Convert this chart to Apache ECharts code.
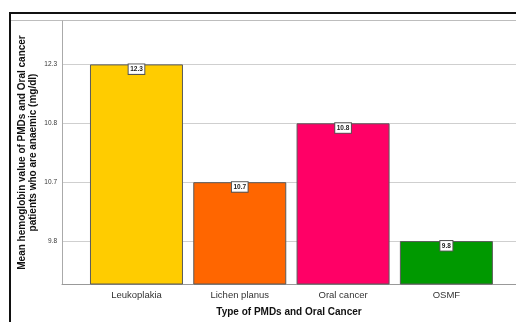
<!DOCTYPE html>
<html>
<head>
<meta charset="utf-8">
<script src="https://cdn.jsdelivr.net/npm/echarts@6/dist/echarts.min.js"></script>
<style>
  html, body { margin: 0; padding: 0; background: #fff; }
  #chart { width: 516px; height: 322px; }
</style>
</head>
<body>
<div id="chart"></div>
<script>
// Mean haemoglobin of anaemic patients by lesion type
const categories = ['Leukoplakia', 'Lichen planus', 'Oral cancer', 'OSMF'];
const meanHb = [12.3, 10.7, 10.8, 9.8];
const barColors = ['#FFCC00', '#FF6600', '#FF0066', '#009900'];
// The value axis is ordinal: each tick is one of these levels, evenly spaced
const yTickLabels = ['9.8', '10.7', '10.8', '12.3'];

// position of a value on the ordinal axis (1 = first tick)
const levelOf = v => yTickLabels.indexOf(v.toFixed(1)) + 1;
const tickLevels = yTickLabels.map((_, i) => i + 1);

const chart = echarts.init(document.getElementById('chart'), null, { renderer: 'canvas' });

const option = {
  backgroundColor: '#ffffff',
  animation: false,
  textStyle: { fontFamily: '"Liberation Sans", Arial, sans-serif' },
  grid: { left: 62, right: 0, top: 21, bottom: 37.5, containLabel: false },
  xAxis: {
    type: 'value',
    min: -0.721,
    max: 3.674,
    name: 'Type of PMDs and Oral Cancer',
    nameLocation: 'middle',
    nameGap: 23,
    nameMoveOverlap: false,
    nameTextStyle: { fontSize: 10, fontWeight: 'bold', color: '#111' },
    axisLine: { show: true, onZero: false, lineStyle: { color: '#999', width: 1 } },
    axisTick: { show: false, customValues: categories.map((_, i) => i) },
    splitLine: { show: false },
    axisLabel: {
      customValues: categories.map((_, i) => i),
      formatter: v => categories[Math.round(v)] || '',
      fontSize: 9.5,
      color: '#333',
      margin: 6
    }
  },
  yAxis: {
    type: 'value',
    min: 0.271,
    max: 4.737,
    name: 'Mean hemoglobin value of PMDs and Oral cancer\npatients who are anaemic (mg/dl)',
    nameLocation: 'middle',
    nameRotate: 90,
    nameGap: 23,
    nameMoveOverlap: false,
    nameTextStyle: { fontSize: 10, fontWeight: 'bold', color: '#111', lineHeight: 11, align: 'center' },
    axisLine: { show: true, onZero: false, lineStyle: { color: '#aaa', width: 1 } },
    axisTick: { show: false, customValues: tickLevels },
    splitLine: { show: true, lineStyle: { color: '#cfcfcf', width: 1 } },
    axisLabel: {
      customValues: tickLevels,
      formatter: v => yTickLabels[Math.round(v) - 1] || '',
      fontSize: 6.5,
      color: '#333',
      margin: 5
    }
  },
  series: [{
    type: 'bar',
    barWidth: 93,
    clip: true,
    data: meanHb.map((v, i) => ({
      value: [i, levelOf(v)],
      hb: v,
      itemStyle: { color: barColors[i] }
    })),
    itemStyle: { borderColor: '#5a5a5a', borderWidth: 1 },
    label: {
      show: true,
      position: 'insideTop',
      distance: 0,
      formatter: p => p.data.hb.toFixed(1),
      fontSize: 6.5,
      fontWeight: 'bold',
      color: '#222',
      backgroundColor: '#fff',
      borderColor: '#555',
      borderWidth: 1,
      padding: [1.5, 1.5, 1, 1.5]
    }
  }],
  graphic: [
    {
      type: 'polyline',
      silent: true,
      shape: { points: [[10, 322], [10, 13], [516, 13]] },
      style: { stroke: '#111', lineWidth: 2, fill: null }
    },
    {
      type: 'line',
      silent: true,
      shape: { x1: 11, y1: 20.5, x2: 516, y2: 20.5 },
      style: { stroke: '#bdbdbd', lineWidth: 1 }
    }
  ]
};

chart.setOption(option);
</script>
</body>
</html>
